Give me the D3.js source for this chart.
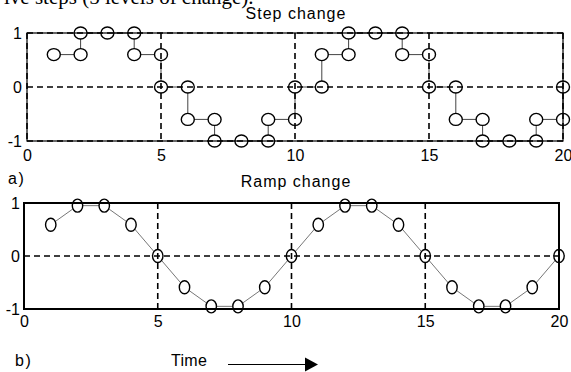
<!DOCTYPE html>
<html>
<head>
<meta charset="utf-8">
<script src="https://cdn.jsdelivr.net/npm/d3@7"></script>
<style>
  body { margin: 0; background: #fff; }
  text { font-family: Arial, "Liberation Sans", sans-serif; fill: #000; }
</style>
</head>
<body>
<div id="chart"></div>
<script>
// data
const time = d3.range(1, 21);
const stepValues = [0.6, 1, 1, 0.6, 0, -0.6, -1, -1, -0.6, 0, 0.6, 1, 1, 0.6, 0, -0.6, -1, -1, -0.6, 0];
const rampValues = [0.59, 0.95, 0.95, 0.59, 0, -0.59, -0.95, -0.95, -0.59, 0, 0.59, 0.95, 0.95, 0.59, 0, -0.59, -0.95, -0.95, -0.59, 0];
const xTicks = [0, 5, 10, 15, 20];
const yTicks = [-1, 0, 1];

const svg = d3.select("#chart")
  .append("svg")
  .attr("width", 571)
  .attr("height", 372);

// caption text cut off at the top
svg.append("text")
  .attr("x", 4)
  .attr("y", 4)
  .style("font-family", "'Liberation Serif', 'Times New Roman', serif")
  .style("font-size", "21px")
  .text("ive steps (5 levels of change).");

function panel(cfg) {
  const x = d3.scaleLinear().domain([0, 20]).range([cfg.left, cfg.right]);
  const y = d3.scaleLinear().domain([-1, 1]).range([cfg.bottom, cfg.top]);
  const g = svg.append("g");

  // x axis labels
  g.append("g")
    .attr("transform", `translate(0,${cfg.bottom})`)
    .call(d3.axisBottom(x).tickValues(xTicks).tickSize(0).tickPadding(cfg.xPad).tickFormat(d => String(d)))
    .call(a => a.select(".domain").remove())
    .selectAll("text")
    .style("font-family", "Arial, 'Liberation Sans', sans-serif")
    .style("font-size", "16px")
    .attr("fill", "#000");

  // y axis labels
  g.append("g")
    .attr("transform", `translate(${cfg.left},0)`)
    .call(d3.axisLeft(y).tickValues(yTicks).tickSize(0).tickPadding(cfg.yPad).tickFormat(d => String(d)))
    .call(a => a.select(".domain").remove())
    .selectAll("text")
    .style("font-family", "Arial, 'Liberation Sans', sans-serif")
    .style("font-size", "16px")
    .attr("fill", "#000");

  // data line
  const line = d3.line()
    .x(d => x(d[0]))
    .y(d => y(d[1]))
    .curve(cfg.curve);
  g.append("path")
    .datum(cfg.points)
    .attr("d", line)
    .attr("fill", "none")
    .attr("stroke", cfg.lineColor)
    .attr("stroke-width", 1);

  // markers
  g.selectAll("ellipse")
    .data(cfg.markers)
    .enter().append("ellipse")
    .attr("cx", d => x(d[0]))
    .attr("cy", d => y(d[1]))
    .attr("rx", cfg.rx)
    .attr("ry", cfg.ry)
    .attr("fill", "#fff")
    .attr("stroke", "#000")
    .attr("stroke-width", 1.4);

  // frame
  g.append("rect")
    .attr("x", cfg.left)
    .attr("y", cfg.top)
    .attr("width", cfg.right - cfg.left)
    .attr("height", cfg.bottom - cfg.top)
    .attr("fill", "none")
    .attr("stroke", "#000")
    .attr("stroke-width", cfg.frameWidth);

  // dashed grid
  g.selectAll(".vgrid")
    .data(cfg.gridX)
    .enter().append("line")
    .attr("x1", d => x(d)).attr("x2", d => x(d))
    .attr("y1", cfg.top).attr("y2", cfg.bottom)
    .attr("stroke", "#000")
    .attr("stroke-width", 1.6)
    .attr("stroke-dasharray", "6,4");
  g.selectAll(".hgrid")
    .data(cfg.gridY)
    .enter().append("line")
    .attr("x1", cfg.left).attr("x2", cfg.right)
    .attr("y1", d => y(d)).attr("y2", d => y(d))
    .attr("stroke", "#000")
    .attr("stroke-width", 1.6)
    .attr("stroke-dasharray", "6,4");
}

// step panel: markers on every corner of the stairs
const stepPoints = time.map((t, i) => [t, stepValues[i]]);
const stepCorners = [];
time.forEach((t, i) => {
  if (i > 0 && stepValues[i] !== stepValues[i - 1]) stepCorners.push([t, stepValues[i - 1]]);
  stepCorners.push([t, stepValues[i]]);
});

panel({
  left: 27, right: 563, top: 33, bottom: 141,
  xPad: 9, yPad: 5,
  points: stepPoints, markers: stepCorners,
  curve: d3.curveStepAfter, lineColor: "#444",
  rx: 6.5, ry: 6,
  frameWidth: 1.2,
  gridX: xTicks, gridY: yTicks
});

const rampPoints = time.map((t, i) => [t, rampValues[i]]);
panel({
  left: 24, right: 559, top: 203, bottom: 309,
  xPad: 7, yPad: 4,
  points: rampPoints, markers: rampPoints,
  curve: d3.curveLinear, lineColor: "#777",
  rx: 5.2, ry: 6.5,
  frameWidth: 2,
  gridX: [5, 10, 15], gridY: [0]
});

// titles and labels
svg.append("text").attr("x", 296).attr("y", 19).attr("text-anchor", "middle")
  .style("font-size", "16px").style("letter-spacing", "1px").text("Step change");
svg.append("text").attr("x", 296).attr("y", 187).attr("text-anchor", "middle")
  .style("font-size", "16px").style("letter-spacing", "1px").text("Ramp change");
svg.append("text").attr("x", 8).attr("y", 184)
  .style("font-size", "16px").style("letter-spacing", "1.5px").text("a)");
svg.append("text").attr("x", 15).attr("y", 366)
  .style("font-size", "16px").style("letter-spacing", "1.5px").text("b)");
svg.append("text").attr("x", 171).attr("y", 366)
  .style("font-size", "16px").style("letter-spacing", "0.3px").text("Time");

// time arrow
svg.append("line")
  .attr("x1", 228).attr("x2", 307)
  .attr("y1", 364.5).attr("y2", 364.5)
  .attr("stroke", "#000").attr("stroke-width", 1);
svg.append("path")
  .attr("d", "M305,357.5 L318,364.5 L305,371.5 Z")
  .attr("fill", "#000");
</script>
</body>
</html>
